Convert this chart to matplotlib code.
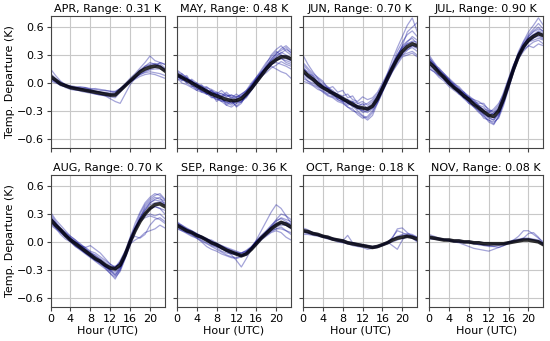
import numpy as np
import matplotlib
matplotlib.use("Agg")
import matplotlib.pyplot as plt

# Heures (UTC)
hours = list(range(24))

months = ["APR", "MAY", "JUN", "JUL", "AUG", "SEP", "OCT", "NOV"]
ranges = [0.31, 0.48, 0.70, 0.90, 0.70, 0.36, 0.18, 0.08]

# Courbes moyennes
apr_mean = [0.07, 0.03, -0.01, -0.03, -0.05, -0.06, -0.07, -0.08, -0.09, -0.10, -0.11, -0.12, -0.13, -0.13, -0.08, -0.03, 0.02, 0.07, 0.12, 0.15, 0.17, 0.18, 0.17, 0.13]
may_mean = [0.09, 0.06, 0.03, 0.0, -0.03, -0.06, -0.09, -0.12, -0.14, -0.16, -0.18, -0.19, -0.19, -0.17, -0.12, -0.06, 0.01, 0.08, 0.15, 0.21, 0.25, 0.28, 0.28, 0.26]
jun_mean = [0.13, 0.08, 0.04, -0.01, -0.05, -0.08, -0.11, -0.14, -0.17, -0.20, -0.23, -0.26, -0.27, -0.28, -0.25, -0.17, -0.06, 0.05, 0.16, 0.26, 0.34, 0.39, 0.42, 0.40]
jul_mean = [0.22, 0.17, 0.11, 0.06, 0.0, -0.05, -0.09, -0.14, -0.18, -0.23, -0.27, -0.31, -0.35, -0.36, -0.30, -0.17, -0.01, 0.15, 0.29, 0.39, 0.46, 0.50, 0.53, 0.51]
aug_mean = [0.24, 0.18, 0.13, 0.07, 0.02, -0.02, -0.06, -0.10, -0.14, -0.18, -0.21, -0.25, -0.28, -0.29, -0.25, -0.14, 0.0, 0.12, 0.22, 0.30, 0.36, 0.40, 0.41, 0.38]
sep_mean = [0.18, 0.15, 0.12, 0.10, 0.07, 0.05, 0.02, -0.01, -0.03, -0.06, -0.09, -0.11, -0.13, -0.15, -0.13, -0.08, -0.02, 0.04, 0.09, 0.14, 0.18, 0.21, 0.19, 0.16]
oct_mean = [0.12, 0.11, 0.09, 0.08, 0.06, 0.05, 0.03, 0.02, 0.01, -0.01, -0.02, -0.03, -0.04, -0.05, -0.06, -0.05, -0.03, -0.01, 0.02, 0.04, 0.05, 0.06, 0.05, 0.03]
nov_mean = [0.05, 0.04, 0.03, 0.02, 0.02, 0.01, 0.01, 0.0, 0.0, -0.01, -0.01, -0.02, -0.02, -0.02, -0.02, -0.02, -0.01, 0.0, 0.01, 0.02, 0.02, 0.01, 0.0, -0.03]

# Courbes individuelles (annees)
apr_lines = [
    [0.15, 0.08, 0.02, -0.02, -0.05, -0.06, -0.07, -0.08, -0.09, -0.10, -0.12, -0.14, -0.17, -0.20, -0.22, -0.12, -0.02, 0.05, 0.12, 0.18, 0.22, 0.20, 0.21, 0.16],
    [0.05, 0.02, -0.02, -0.04, -0.05, -0.05, -0.06, -0.07, -0.08, -0.09, -0.10, -0.10, -0.11, -0.10, -0.06, -0.01, 0.05, 0.10, 0.16, 0.22, 0.29, 0.24, 0.22, 0.20],
    [0.08, 0.04, 0.0, -0.03, -0.04, -0.05, -0.05, -0.06, -0.07, -0.06, -0.07, -0.08, -0.09, -0.10, -0.07, -0.02, 0.02, 0.06, 0.09, 0.11, 0.12, 0.11, 0.10, 0.08],
    [0.03, 0.01, -0.03, -0.04, -0.06, -0.07, -0.09, -0.10, -0.11, -0.12, -0.13, -0.14, -0.15, -0.16, -0.10, -0.04, 0.03, 0.08, 0.14, 0.18, 0.20, 0.21, 0.19, 0.14],
    [0.06, 0.03, -0.01, -0.02, -0.04, -0.06, -0.06, -0.05, -0.07, -0.09, -0.10, -0.11, -0.12, -0.12, -0.09, -0.04, 0.01, 0.05, 0.09, 0.12, 0.14, 0.15, 0.15, 0.13],
    [0.02, 0.0, -0.02, -0.05, -0.07, -0.08, -0.08, -0.09, -0.10, -0.12, -0.13, -0.13, -0.14, -0.14, -0.09, -0.03, 0.03, 0.08, 0.13, 0.17, 0.19, 0.20, 0.18, 0.15],
    [0.10, 0.05, 0.01, -0.02, -0.04, -0.05, -0.06, -0.08, -0.09, -0.09, -0.10, -0.12, -0.13, -0.12, -0.07, -0.02, 0.02, 0.06, 0.10, 0.13, 0.15, 0.17, 0.22, 0.20],
    [0.04, 0.02, 0.0, -0.02, -0.03, -0.04, -0.04, -0.05, -0.06, -0.07, -0.08, -0.08, -0.09, -0.09, -0.06, -0.03, 0.01, 0.04, 0.07, 0.09, 0.10, 0.09, 0.07, 0.05],
]
may_lines = [
    [0.12, 0.05, 0.08, 0.0, -0.05, -0.02, -0.10, -0.13, -0.10, -0.18, -0.20, -0.22, -0.17, -0.15, -0.10, -0.02, 0.05, 0.12, 0.20, 0.30, 0.36, 0.40, 0.34, 0.30],
    [0.05, 0.08, 0.02, 0.03, -0.06, -0.08, -0.06, -0.15, -0.18, -0.16, -0.24, -0.20, -0.25, -0.20, -0.14, -0.05, 0.02, 0.10, 0.18, 0.25, 0.32, 0.35, 0.38, 0.32],
    [0.10, 0.02, 0.06, -0.02, 0.0, -0.08, -0.12, -0.08, -0.14, -0.15, -0.12, -0.17, -0.15, -0.14, -0.08, 0.0, 0.06, 0.12, 0.16, 0.20, 0.22, 0.20, 0.18, 0.15],
    [0.02, 0.06, 0.0, -0.04, -0.03, -0.10, -0.08, -0.12, -0.16, -0.20, -0.18, -0.22, -0.20, -0.18, -0.15, -0.08, 0.0, 0.08, 0.14, 0.18, 0.15, 0.12, 0.10, 0.05],
    [0.08, 0.03, 0.04, 0.02, -0.04, -0.05, -0.08, -0.10, -0.12, -0.14, -0.16, -0.18, -0.22, -0.18, -0.12, -0.06, 0.03, 0.10, 0.18, 0.24, 0.28, 0.33, 0.30, 0.27],
    [0.14, 0.10, 0.05, 0.02, -0.01, -0.04, -0.07, -0.11, -0.13, -0.11, -0.15, -0.13, -0.16, -0.12, -0.08, -0.03, 0.04, 0.11, 0.17, 0.22, 0.25, 0.26, 0.24, 0.22],
    [0.06, 0.0, -0.02, -0.05, -0.08, -0.10, -0.12, -0.14, -0.17, -0.20, -0.24, -0.26, -0.22, -0.20, -0.16, -0.08, -0.01, 0.06, 0.13, 0.20, 0.27, 0.30, 0.28, 0.24],
    [0.09, 0.07, 0.01, 0.04, 0.0, -0.03, -0.05, -0.07, -0.10, -0.12, -0.14, -0.13, -0.15, -0.12, -0.09, -0.04, 0.02, 0.09, 0.16, 0.23, 0.30, 0.32, 0.36, 0.33],
    [0.04, 0.10, 0.06, -0.02, -0.08, -0.04, -0.12, -0.10, -0.20, -0.16, -0.22, -0.18, -0.26, -0.22, -0.12, -0.04, 0.06, 0.14, 0.22, 0.28, 0.34, 0.30, 0.26, 0.24],
    [0.11, 0.04, 0.0, 0.02, -0.02, -0.07, -0.04, -0.09, -0.12, -0.08, -0.13, -0.16, -0.12, -0.16, -0.10, -0.02, 0.04, 0.10, 0.15, 0.19, 0.24, 0.27, 0.22, 0.20],
    [0.07, 0.05, 0.05, -0.03, -0.06, -0.09, -0.11, -0.16, -0.15, -0.19, -0.21, -0.24, -0.19, -0.21, -0.14, -0.07, 0.01, 0.09, 0.17, 0.26, 0.31, 0.37, 0.40, 0.35],
    [0.13, 0.08, 0.03, 0.01, -0.02, -0.06, -0.09, -0.08, -0.12, -0.14, -0.10, -0.15, -0.18, -0.14, -0.11, -0.05, 0.03, 0.07, 0.11, 0.16, 0.19, 0.23, 0.20, 0.18],
]
jun_lines = [
    [0.30, 0.20, 0.12, 0.05, 0.0, -0.04, -0.10, -0.12, -0.18, -0.22, -0.25, -0.30, -0.35, -0.38, -0.32, -0.20, -0.05, 0.10, 0.25, 0.38, 0.50, 0.62, 0.70, 0.55],
    [0.10, 0.05, 0.02, -0.03, -0.08, -0.12, -0.10, -0.18, -0.20, -0.24, -0.22, -0.28, -0.30, -0.32, -0.28, -0.18, -0.08, 0.05, 0.15, 0.25, 0.32, 0.36, 0.38, 0.34],
    [0.15, 0.12, 0.06, 0.02, -0.03, -0.06, -0.10, -0.12, -0.14, -0.12, -0.18, -0.20, -0.15, -0.18, -0.16, -0.10, 0.0, 0.10, 0.20, 0.30, 0.40, 0.45, 0.48, 0.42],
    [0.08, 0.02, -0.02, -0.05, -0.10, -0.14, -0.16, -0.20, -0.22, -0.26, -0.30, -0.32, -0.36, -0.40, -0.35, -0.22, -0.10, 0.02, 0.12, 0.22, 0.30, 0.35, 0.40, 0.38],
    [0.18, 0.10, 0.08, 0.0, -0.02, -0.05, -0.08, -0.13, -0.15, -0.18, -0.20, -0.22, -0.24, -0.22, -0.18, -0.12, -0.02, 0.08, 0.18, 0.28, 0.40, 0.55, 0.60, 0.65],
    [0.12, 0.06, 0.03, -0.02, -0.06, -0.09, -0.12, -0.16, -0.19, -0.20, -0.26, -0.24, -0.28, -0.26, -0.22, -0.14, -0.04, 0.06, 0.16, 0.24, 0.30, 0.32, 0.34, 0.30],
    [0.05, 0.02, 0.0, -0.04, -0.06, -0.10, -0.14, -0.15, -0.18, -0.22, -0.24, -0.28, -0.26, -0.30, -0.27, -0.20, -0.09, 0.03, 0.14, 0.26, 0.36, 0.42, 0.45, 0.44],
    [0.20, 0.14, 0.08, 0.04, -0.04, -0.06, -0.12, -0.14, -0.16, -0.20, -0.21, -0.25, -0.30, -0.28, -0.24, -0.15, -0.05, 0.06, 0.18, 0.30, 0.38, 0.42, 0.44, 0.40],
    [0.22, 0.16, 0.10, 0.06, 0.02, -0.06, -0.04, -0.10, -0.08, -0.16, -0.14, -0.22, -0.20, -0.24, -0.20, -0.14, -0.03, 0.08, 0.20, 0.34, 0.44, 0.52, 0.56, 0.50],
    [0.02, 0.0, -0.03, -0.07, -0.09, -0.13, -0.15, -0.18, -0.21, -0.26, -0.28, -0.34, -0.38, -0.36, -0.30, -0.22, -0.10, 0.01, 0.12, 0.20, 0.28, 0.30, 0.32, 0.28],
    [0.16, 0.09, 0.05, 0.01, -0.04, -0.07, -0.11, -0.14, -0.20, -0.18, -0.24, -0.26, -0.22, -0.28, -0.24, -0.16, -0.05, 0.07, 0.18, 0.30, 0.38, 0.44, 0.50, 0.46],
    [0.11, 0.07, 0.04, 0.0, -0.05, -0.08, -0.13, -0.17, -0.16, -0.22, -0.20, -0.26, -0.32, -0.30, -0.26, -0.17, -0.06, 0.05, 0.15, 0.25, 0.33, 0.38, 0.40, 0.37],
]
jul_lines = [
    [0.30, 0.22, 0.15, 0.10, 0.04, -0.02, -0.06, -0.12, -0.16, -0.22, -0.28, -0.35, -0.42, -0.45, -0.36, -0.20, -0.02, 0.18, 0.34, 0.45, 0.55, 0.62, 0.70, 0.62],
    [0.20, 0.16, 0.12, 0.05, 0.0, -0.04, -0.08, -0.12, -0.15, -0.20, -0.25, -0.30, -0.32, -0.34, -0.28, -0.14, 0.02, 0.16, 0.28, 0.38, 0.44, 0.46, 0.48, 0.46],
    [0.25, 0.18, 0.14, 0.08, 0.02, -0.06, -0.10, -0.15, -0.20, -0.26, -0.30, -0.38, -0.40, -0.44, -0.36, -0.22, -0.06, 0.12, 0.28, 0.40, 0.50, 0.56, 0.60, 0.55],
    [0.15, 0.12, 0.08, 0.04, -0.02, -0.04, -0.12, -0.14, -0.22, -0.24, -0.26, -0.28, -0.30, -0.30, -0.24, -0.10, 0.05, 0.20, 0.30, 0.36, 0.40, 0.38, 0.42, 0.40],
    [0.22, 0.20, 0.10, 0.08, 0.04, -0.06, -0.08, -0.16, -0.16, -0.20, -0.22, -0.22, -0.30, -0.34, -0.30, -0.16, 0.0, 0.14, 0.30, 0.42, 0.50, 0.55, 0.58, 0.56],
    [0.28, 0.20, 0.12, 0.06, 0.0, -0.05, -0.10, -0.16, -0.20, -0.25, -0.30, -0.34, -0.38, -0.40, -0.32, -0.18, -0.03, 0.14, 0.30, 0.42, 0.48, 0.52, 0.54, 0.50],
    [0.18, 0.14, 0.08, 0.04, -0.02, -0.06, -0.10, -0.12, -0.18, -0.22, -0.28, -0.32, -0.36, -0.32, -0.26, -0.14, 0.02, 0.17, 0.30, 0.38, 0.44, 0.48, 0.52, 0.48],
    [0.24, 0.18, 0.14, 0.06, 0.02, -0.03, -0.07, -0.14, -0.19, -0.21, -0.24, -0.30, -0.34, -0.38, -0.34, -0.20, -0.04, 0.12, 0.26, 0.36, 0.45, 0.50, 0.55, 0.52],
    [0.26, 0.21, 0.13, 0.09, 0.03, -0.01, -0.04, -0.10, -0.14, -0.18, -0.20, -0.24, -0.28, -0.32, -0.28, -0.16, 0.01, 0.18, 0.32, 0.44, 0.52, 0.58, 0.64, 0.58],
    [0.16, 0.12, 0.06, 0.02, -0.04, -0.08, -0.12, -0.17, -0.22, -0.26, -0.32, -0.36, -0.40, -0.42, -0.38, -0.24, -0.06, 0.12, 0.26, 0.34, 0.40, 0.44, 0.46, 0.42],
    [0.21, 0.15, 0.12, 0.04, 0.01, -0.02, -0.10, -0.10, -0.16, -0.18, -0.24, -0.26, -0.32, -0.28, -0.22, -0.12, 0.04, 0.18, 0.32, 0.40, 0.48, 0.52, 0.56, 0.54],
    [0.27, 0.19, 0.16, 0.10, 0.05, 0.0, -0.06, -0.10, -0.17, -0.22, -0.27, -0.33, -0.37, -0.40, -0.34, -0.19, -0.02, 0.15, 0.29, 0.39, 0.45, 0.49, 0.50, 0.47],
]
aug_lines = [
    [0.30, 0.22, 0.15, 0.10, 0.04, 0.0, -0.04, -0.08, -0.12, -0.17, -0.22, -0.28, -0.34, -0.40, -0.30, -0.14, 0.04, 0.20, 0.32, 0.42, 0.48, 0.52, 0.50, 0.45],
    [0.22, 0.16, 0.12, 0.06, 0.04, 0.0, -0.04, -0.06, -0.04, -0.08, -0.12, -0.18, -0.24, -0.28, -0.20, -0.10, -0.02, 0.02, 0.05, 0.10, 0.12, 0.14, 0.18, 0.15],
    [0.26, 0.20, 0.14, 0.08, 0.02, -0.03, -0.07, -0.12, -0.16, -0.20, -0.24, -0.27, -0.30, -0.32, -0.27, -0.16, -0.02, 0.12, 0.24, 0.34, 0.42, 0.46, 0.48, 0.40],
    [0.18, 0.14, 0.10, 0.05, 0.0, -0.05, -0.08, -0.12, -0.16, -0.20, -0.22, -0.26, -0.30, -0.28, -0.22, -0.10, 0.05, 0.16, 0.24, 0.28, 0.30, 0.28, 0.30, 0.25],
    [0.28, 0.20, 0.14, 0.10, 0.06, 0.02, -0.04, -0.08, -0.12, -0.14, -0.18, -0.22, -0.26, -0.30, -0.26, -0.15, 0.0, 0.14, 0.26, 0.36, 0.42, 0.45, 0.44, 0.42],
    [0.24, 0.18, 0.14, 0.08, 0.02, -0.02, -0.06, -0.10, -0.14, -0.18, -0.22, -0.26, -0.32, -0.36, -0.30, -0.18, -0.02, 0.14, 0.26, 0.34, 0.40, 0.42, 0.43, 0.40],
    [0.20, 0.16, 0.10, 0.06, 0.02, -0.02, -0.06, -0.10, -0.14, -0.18, -0.20, -0.24, -0.27, -0.30, -0.26, -0.12, 0.02, 0.06, 0.04, 0.08, 0.18, 0.24, 0.26, 0.22],
    [0.26, 0.19, 0.13, 0.07, 0.03, -0.01, -0.05, -0.09, -0.13, -0.16, -0.20, -0.25, -0.28, -0.26, -0.24, -0.14, 0.02, 0.14, 0.24, 0.30, 0.35, 0.38, 0.36, 0.34],
    [0.32, 0.24, 0.18, 0.12, 0.06, 0.02, -0.02, -0.07, -0.11, -0.15, -0.19, -0.24, -0.30, -0.36, -0.28, -0.16, 0.0, 0.16, 0.30, 0.40, 0.46, 0.50, 0.52, 0.46],
    [0.20, 0.15, 0.08, 0.03, 0.0, -0.05, -0.09, -0.13, -0.17, -0.21, -0.25, -0.29, -0.34, -0.38, -0.32, -0.18, -0.04, 0.10, 0.22, 0.30, 0.36, 0.38, 0.36, 0.30],
    [0.25, 0.21, 0.12, 0.09, 0.04, 0.0, -0.03, -0.06, -0.10, -0.12, -0.16, -0.20, -0.24, -0.27, -0.22, -0.12, 0.02, 0.14, 0.26, 0.38, 0.44, 0.48, 0.46, 0.44],
    [0.23, 0.17, 0.11, 0.06, 0.01, -0.04, -0.08, -0.12, -0.15, -0.19, -0.23, -0.27, -0.31, -0.34, -0.28, -0.15, 0.01, 0.14, 0.22, 0.26, 0.28, 0.26, 0.24, 0.20],
]
sep_lines = [
    [0.20, 0.16, 0.13, 0.11, 0.08, 0.05, 0.02, -0.01, -0.04, -0.07, -0.10, -0.14, -0.20, -0.27, -0.18, -0.08, 0.02, 0.12, 0.22, 0.32, 0.40, 0.36, 0.28, 0.20],
    [0.15, 0.12, 0.10, 0.07, 0.05, 0.02, -0.01, -0.04, -0.06, -0.10, -0.12, -0.13, -0.14, -0.15, -0.13, -0.07, -0.01, 0.04, 0.08, 0.12, 0.14, 0.16, 0.12, 0.08],
    [0.22, 0.18, 0.15, 0.12, 0.09, 0.06, 0.04, 0.0, -0.02, -0.04, -0.07, -0.09, -0.11, -0.12, -0.10, -0.06, 0.0, 0.05, 0.10, 0.16, 0.22, 0.26, 0.24, 0.22],
    [0.17, 0.14, 0.10, 0.08, 0.04, 0.0, -0.05, -0.08, -0.10, -0.13, -0.15, -0.17, -0.18, -0.16, -0.14, -0.09, -0.04, 0.02, 0.06, 0.10, 0.12, 0.10, 0.05, 0.02],
    [0.19, 0.16, 0.14, 0.10, 0.08, 0.06, 0.03, 0.01, -0.03, -0.05, -0.08, -0.10, -0.14, -0.12, -0.10, -0.06, 0.01, 0.07, 0.12, 0.18, 0.23, 0.25, 0.22, 0.18],
    [0.16, 0.13, 0.11, 0.09, 0.06, 0.04, 0.01, -0.02, -0.05, -0.07, -0.10, -0.12, -0.13, -0.15, -0.14, -0.08, -0.03, 0.04, 0.10, 0.14, 0.18, 0.20, 0.18, 0.14],
    [0.21, 0.17, 0.13, 0.10, 0.07, 0.04, 0.02, -0.02, -0.03, -0.08, -0.09, -0.12, -0.12, -0.16, -0.11, -0.06, 0.0, 0.05, 0.09, 0.16, 0.20, 0.22, 0.20, 0.17],
    [0.18, 0.15, 0.12, 0.09, 0.08, 0.05, 0.03, 0.0, -0.02, -0.05, -0.07, -0.10, -0.13, -0.14, -0.12, -0.09, -0.02, 0.03, 0.08, 0.13, 0.16, 0.18, 0.18, 0.15],
    [0.18, 0.16, 0.11, 0.10, 0.06, 0.04, 0.02, -0.03, -0.05, -0.06, -0.09, -0.11, -0.12, -0.13, -0.11, -0.07, -0.01, 0.05, 0.11, 0.17, 0.24, 0.30, 0.28, 0.24],
    [0.14, 0.12, 0.09, 0.06, 0.04, 0.01, -0.02, -0.05, -0.08, -0.11, -0.14, -0.16, -0.17, -0.15, -0.12, -0.07, -0.02, 0.03, 0.07, 0.11, 0.14, 0.14, 0.12, 0.10],
    [0.20, 0.18, 0.14, 0.12, 0.09, 0.06, 0.03, 0.02, -0.01, -0.04, -0.06, -0.08, -0.10, -0.12, -0.09, -0.05, 0.01, 0.06, 0.11, 0.15, 0.19, 0.20, 0.21, 0.19],
]
oct_lines = [
    [0.15, 0.13, 0.10, 0.09, 0.07, 0.05, 0.04, 0.02, 0.01, 0.07, -0.01, -0.03, -0.04, -0.05, -0.06, -0.05, -0.03, -0.01, 0.04, 0.14, 0.15, 0.10, 0.06, 0.02],
    [0.10, 0.09, 0.08, 0.07, 0.05, 0.04, 0.03, 0.02, 0.0, -0.02, -0.03, -0.04, -0.05, -0.06, -0.07, -0.06, -0.04, -0.02, 0.0, 0.02, 0.04, 0.05, 0.06, 0.04],
    [0.13, 0.12, 0.10, 0.08, 0.07, 0.06, 0.04, 0.02, 0.02, 0.0, -0.01, -0.02, -0.03, -0.04, -0.05, -0.04, -0.02, 0.0, -0.04, -0.08, 0.02, 0.08, 0.07, 0.05],
    [0.08, 0.08, 0.07, 0.06, 0.05, 0.03, 0.02, 0.0, -0.01, -0.02, -0.04, -0.05, -0.06, -0.08, -0.07, -0.06, -0.04, -0.01, 0.02, 0.05, 0.07, 0.06, 0.04, 0.0],
    [0.12, 0.10, 0.09, 0.08, 0.06, 0.05, 0.04, 0.03, 0.02, 0.0, -0.01, -0.02, -0.03, -0.04, -0.05, -0.04, -0.03, 0.0, 0.03, 0.06, 0.08, 0.09, 0.08, 0.05],
    [0.11, 0.10, 0.08, 0.07, 0.06, 0.04, 0.02, 0.01, 0.0, -0.01, -0.02, -0.04, -0.04, -0.05, -0.06, -0.05, -0.03, -0.01, 0.05, 0.12, 0.10, 0.07, 0.04, 0.01],
]
nov_lines = [
    [0.08, 0.06, 0.04, 0.03, 0.02, 0.0, -0.01, -0.03, -0.05, -0.07, -0.08, -0.09, -0.10, -0.08, -0.06, -0.04, -0.01, 0.02, 0.06, 0.12, 0.12, 0.08, 0.04, 0.0],
    [0.05, 0.04, 0.03, 0.02, 0.01, 0.01, 0.0, 0.0, -0.01, -0.02, -0.03, -0.03, -0.04, -0.05, -0.06, -0.04, -0.02, 0.0, 0.02, 0.04, 0.09, 0.10, 0.05, -0.02],
    [0.04, 0.03, 0.03, 0.02, 0.02, 0.01, 0.01, 0.0, 0.01, 0.0, 0.0, -0.01, -0.01, -0.02, -0.02, -0.02, -0.01, 0.0, 0.01, 0.02, 0.03, 0.02, 0.01, -0.03],
    [0.06, 0.05, 0.04, 0.03, 0.03, 0.02, 0.02, 0.01, 0.0, -0.01, -0.02, -0.03, -0.04, -0.03, -0.03, -0.02, 0.0, 0.02, 0.03, 0.04, 0.04, 0.03, 0.02, -0.02],
    [0.03, 0.03, 0.02, 0.02, 0.01, 0.0, 0.0, -0.01, -0.01, -0.02, -0.03, -0.04, -0.05, -0.05, -0.04, -0.02, 0.0, 0.01, 0.02, 0.03, 0.03, 0.02, 0.0, -0.04],
]

means = [apr_mean, may_mean, jun_mean, jul_mean, aug_mean, sep_mean, oct_mean, nov_mean]
lines = [apr_lines, may_lines, jun_lines, jul_lines, aug_lines, sep_lines, oct_lines, nov_lines]

plt.rcParams['font.family'] = 'DejaVu Sans'
plt.rcParams['font.size'] = 8

fig, axes = plt.subplots(2, 4, figsize=(5.5, 3.41), dpi=100, sharex=True, sharey=True)
fig.subplots_adjust(left=0.092, right=0.988, top=0.953, bottom=0.1, wspace=0.104, hspace=0.205)

for i, ax in enumerate(axes.flat):
    for ln in lines[i]:
        ax.plot(hours, ln, color='#10109a', alpha=0.38, lw=0.9)
    ax.plot(hours, means[i], color='black', alpha=0.8, lw=2.6)
    ax.set_title(f"{months[i]}, Range: {ranges[i]:.2f} K", fontsize=8, pad=3)
    ax.grid(True, color='#c8c8c8', lw=0.8)
    ax.set_axisbelow(True)
    ax.set_xlim(0, 23)
    ax.set_ylim(-0.7, 0.72)
    ax.set_xticks([0, 4, 8, 12, 16, 20])
    ax.set_yticks([-0.6, -0.3, 0.0, 0.3, 0.6])
    ax.tick_params(length=3, width=0.8, labelsize=8, pad=2, color='#444444')
    for sp in ax.spines.values():
        sp.set_color('#444444')
        sp.set_linewidth(0.8)

for ax in axes[:, 0]:
    ax.set_ylabel("Temp. Departure (K)", fontsize=8, labelpad=1)
for ax in axes[1, :]:
    ax.set_xlabel("Hour (UTC)", fontsize=8, labelpad=1)

plt.savefig("out.png", dpi=100)
